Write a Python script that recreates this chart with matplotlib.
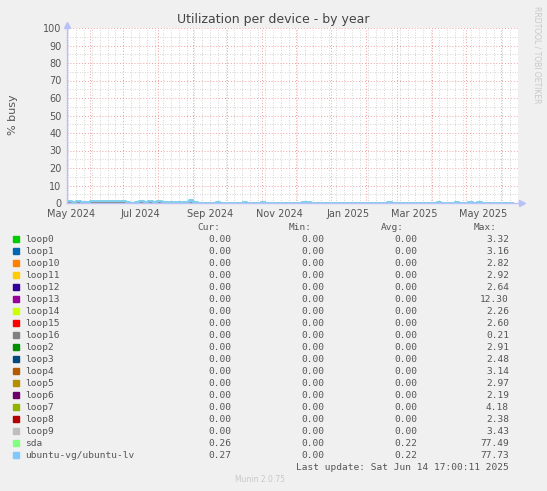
#!/usr/bin/env python3

import numpy as np
import pandas as pd
import matplotlib
matplotlib.use('Agg')
import matplotlib.pyplot as plt
import matplotlib.dates as mdates
from matplotlib.ticker import MultipleLocator
from matplotlib.patches import Rectangle

W, H = 547, 491

# Legend table
names = ['loop0', 'loop1', 'loop10', 'loop11', 'loop12', 'loop13', 'loop14',
         'loop15', 'loop16', 'loop2', 'loop3', 'loop4', 'loop5', 'loop6',
         'loop7', 'loop8', 'loop9', 'sda', 'ubuntu-vg/ubuntu-lv']
colors = ['#00CC00', '#0066B3', '#FF8000', '#FFCC00', '#330099', '#990099',
          '#CCFF00', '#FF0000', '#808080', '#008F00', '#00487D', '#B35A00',
          '#B38F00', '#6B006B', '#8FB300', '#B30000', '#BEBEBE', '#80FF80',
          '#80C9FF']
cur = [0.00] * 17 + [0.26, 0.27]
mins = [0.00] * 19
avgs = [0.00] * 17 + [0.22, 0.22]
maxs = [3.32, 3.16, 2.82, 2.92, 2.64, 12.30, 2.26, 2.60, 0.21, 2.91, 2.48,
        3.14, 2.97, 2.19, 4.18, 2.38, 3.43, 77.49, 77.73]

# Time axis: 400 days, 4-day steps
start = pd.Timestamp('2024-05-12')
end = pd.Timestamp('2025-06-16')
step_days = 4

# 4-day values (% busy); sda sits right under the LV
lv_util = [0.9, 0.8, 0.9, 0.3, 0.5, 0.9, 0.9, 1.0, 0.9, 0.9,
           0.9, 0.9, 0.9, 0.6, 0.2, 0.8, 0.9, 0.8, 0.9, 0.8,
           0.9, 0.8, 0.8, 0.5, 0.3, 0.5, 0.4, 1.6, 0.4, 0.2,
           0.05, 0.05, 0.05, 0.3, 0.05, 0.05, 0.05, 0.05, 0.05, 0.4,
           0.05, 0.05, 0.05, 0.3, 0.05, 0.05, 0.05, 0.05, 0.05, 0.05,
           0.05, 0.05, 0.4, 0.4, 0.05, 0.05, 0.05, 0.05, 0.05, 0.05,
           0.05, 0.05, 0.05, 0.05, 0.05, 0.05, 0.05, 0.05, 0.05, 0.05,
           0.05, 0.4, 0.05, 0.05, 0.05, 0.05, 0.05, 0.05, 0.05, 0.05,
           0.05, 0.05, 0.5, 0.05, 0.05, 0.05, 0.4, 0.05, 0.05, 0.4,
           0.05, 0.4, 0.05, 0.05, 0.05, 0.05, 0.05, 0.05, 0.05, 0.05]
sda_util = list(lv_util)

x_labels = ['May 2024', 'Jul 2024', 'Sep 2024', 'Nov 2024',
            'Jan 2025', 'Mar 2025', 'May 2025']
x_label_dates = ['2024-05-16', '2024-07-16', '2024-09-16', '2024-11-16',
                 '2025-01-16', '2025-03-16', '2025-05-16']

dates = start + pd.to_timedelta(np.arange(len(lv_util)) * step_days, unit='D')

BG = '#F0F0F0'
AXIS = '#B8C0F8'
TXT = '#555555'
MONO = 'DejaVu Sans Mono'

fig = plt.figure(figsize=(W / 100, H / 100), dpi=100, facecolor=BG)
ax = fig.add_axes([67 / W, 1 - 203 / H, 451 / W, 175 / H])
ax.set_facecolor('white')

# all loop devices sit at zero on the yearly averages
for name, color in zip(names[:17], colors[:17]):
    ax.step(dates, np.zeros(len(dates)), where='post', color=color, lw=0.8)
ax.step(dates, sda_util, where='post', color=colors[17], lw=1.2)
ax.fill_between(dates, lv_util, step='post', color=colors[18], lw=0)
ax.step(dates, lv_util, where='post', color=colors[18], lw=1.2)

ax.set_xlim(start, end)
ax.set_ylim(0, 100)

ax.yaxis.set_major_locator(MultipleLocator(10))
ax.yaxis.set_minor_locator(MultipleLocator(5))
ax.xaxis.set_major_locator(mdates.MonthLocator(bymonthday=1))
ax.xaxis.set_minor_locator(mdates.WeekdayLocator(byweekday=mdates.MO))
ax.xaxis.set_major_formatter(plt.NullFormatter())

ax.set_axisbelow(True)
ax.grid(which='major', color='#F0A0A0', ls=(0, (1, 2)), lw=0.7)
ax.grid(which='minor', color='#C8C8C8', ls=(0, (1, 2)), lw=0.6)

ax.tick_params(which='both', length=0)
ax.tick_params(axis='y', labelsize=7, labelcolor=TXT, pad=4)

for s in ['top', 'right']:
    ax.spines[s].set_visible(False)
for s in ['left', 'bottom']:
    ax.spines[s].set_color(AXIS)
    ax.spines[s].set_linewidth(1)
    ax.spines[s].set_zorder(5)

# axis arrows
ax.plot([1.008], [0], marker='>', color=AXIS, ms=5, transform=ax.transAxes, clip_on=False)
ax.plot([0], [1.02], marker='^', color=AXIS, ms=5, transform=ax.transAxes, clip_on=False)

for lab, d in zip(x_labels, x_label_dates):
    ax.text(pd.Timestamp(d), -0.035, lab, transform=ax.get_xaxis_transform(),
            ha='center', va='top', fontsize=7, color=TXT)

fig.text(273 / W, 1 - 19 / H, 'Utilization per device - by year',
         ha='center', va='center', fontsize=9, color='#444444')
fig.text(13 / W, 1 - 115 / H, '% busy', rotation=90, ha='center',
         va='center', fontsize=8, color=TXT)
fig.text(537 / W, 1 - 6 / H, 'RRDTOOL / TOBI OETIKER', rotation=270,
         ha='center', va='top', fontsize=5.5, color='#C8C8C8')

# legend table
def ftext(x, y, s, **kw):
    fig.text(x / W, 1 - y / H, s, va='center', family=MONO, fontsize=6.8,
             color=TXT, **kw)

ftext(220, 227, 'Cur:', ha='right')
ftext(312, 227, 'Min:', ha='right')
ftext(404, 227, 'Avg:', ha='right')
ftext(497, 227, 'Max:', ha='right')

for i, name in enumerate(names):
    y = 239 + 12 * i
    fig.patches.append(Rectangle((13 / W, 1 - (y + 3) / H), 6 / W, 6 / H,
                                 transform=fig.transFigure, color=colors[i]))
    ftext(25, y, name, ha='left')
    ftext(231, y, '%.2f' % cur[i], ha='right')
    ftext(324, y, '%.2f' % mins[i], ha='right')
    ftext(417, y, '%.2f' % avgs[i], ha='right')
    ftext(509, y, '%.2f' % maxs[i], ha='right')

ftext(509, 467, 'Last update: Sat Jun 14 17:00:11 2025', ha='right')
fig.text(260 / W, 1 - 480 / H, 'Munin 2.0.75', ha='center', va='center',
         fontsize=5.5, color='#C8C8C8')

fig.savefig('out.png', dpi=100, facecolor=BG)
